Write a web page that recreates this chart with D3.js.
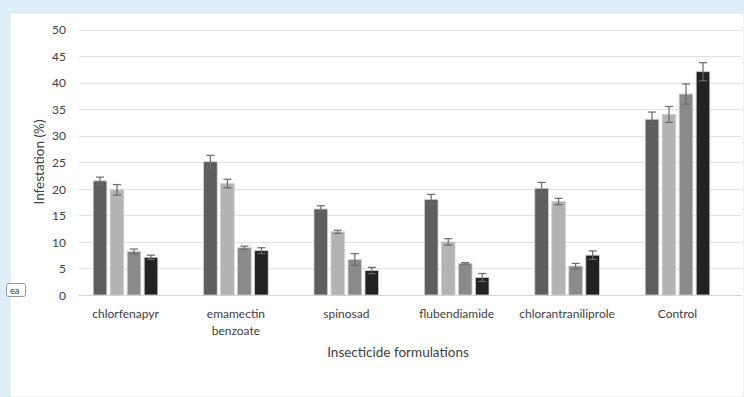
<!DOCTYPE html>
<html>
<head>
<meta charset="utf-8">
<script src="https://cdn.jsdelivr.net/npm/d3@7"></script>
<style>
  html, body { margin: 0; padding: 0; background: #dfeffa; }
  svg { display: block; }
</style>
</head>
<body>
<svg id="chart" width="744" height="397"></svg>
<script>
const categories = ["chlorfenapyr", "emamectin benzoate", "spinosad", "flubendiamide", "chlorantraniliprole", "Control"];
const categoryLines = [["chlorfenapyr"], ["emamectin", "benzoate"], ["spinosad"], ["flubendiamide"], ["chlorantraniliprole"], ["Control"]];
const seriesNames = ["S1", "S2", "S3", "S4"];
const values = [
  [21.5, 19.8, 8.2, 7.1],
  [25.1, 21.0, 8.9, 8.35],
  [16.2, 11.9, 6.7, 4.6],
  [18.0, 10.0, 5.95, 3.3],
  [20.1, 17.6, 5.45, 7.5],
  [33.1, 34.0, 37.85, 42.05]
];
const errors = [
  [0.7, 1.0, 0.45, 0.4],
  [1.2, 0.8, 0.3, 0.55],
  [0.6, 0.3, 1.1, 0.6],
  [0.95, 0.6, 0.15, 0.75],
  [1.1, 0.6, 0.5, 0.8],
  [1.35, 1.5, 1.9, 1.7]
];
const yTicks = [0, 5, 10, 15, 20, 25, 30, 35, 40, 45, 50];
const colors = ["#5e5e5e", "#b3b3b3", "#8a8a8a", "#222222"];

const svg = d3.select("#chart");
const font = "Lato, 'Open Sans', sans-serif";

// white panel
svg.append("rect").attr("x", 10).attr("y", 13).attr("width", 734).attr("height", 384)
  .attr("fill", "#ffffff").attr("stroke", "#e2e2e2").attr("stroke-width", 1);

const y = d3.scaleLinear().domain([0, 50]).range([295, 29.5]);
const x0 = d3.scaleBand().domain(categories).range([70.3, 732.7]).paddingInner(0).paddingOuter(0);
const barW = 13.6, barStep = 17;

// gridlines
svg.append("g").selectAll("line").data(yTicks).join("line")
  .attr("x1", 79).attr("x2", 742)
  .attr("y1", d => Math.round(y(d)) + 0.5).attr("y2", d => Math.round(y(d)) + 0.5)
  .attr("stroke", d => d === 0 ? "#d4d4d4" : "#e1e1e1").attr("stroke-width", 1.2);

// y axis labels
const yAxis = d3.axisLeft(y).tickValues(yTicks).tickSize(0).tickPadding(0);
const gy = svg.append("g").attr("transform", "translate(66,0)").call(yAxis);
gy.select(".domain").remove();
gy.selectAll("text").attr("font-family", font).attr("font-size", 12).attr("fill", "#404040").attr("dy", "0.35em");

// bars
const groups = svg.append("g").selectAll("g").data(categories).join("g")
  .attr("transform", d => `translate(${x0(d) + x0.bandwidth() / 2 - (barStep * 3 + barW) / 2},0)`);

groups.each(function(cat, ci) {
  const g = d3.select(this);
  values[ci].forEach((v, si) => {
    const bx = si * barStep;
    g.append("rect").attr("x", bx).attr("y", y(v)).attr("width", barW).attr("height", y(0) - y(v))
      .attr("fill", colors[si]).attr("stroke", "#d0d0d0").attr("stroke-width", 0.8);
    const e = errors[ci][si];
    const cx = bx + barW / 2;
    g.append("line").attr("x1", cx).attr("x2", cx).attr("y1", y(v + e)).attr("y2", y(v - e))
      .attr("stroke", "#6a6a6a").attr("stroke-width", 1.2);
    [v + e, v - e].forEach(t => {
      g.append("line").attr("x1", cx - 4).attr("x2", cx + 4).attr("y1", y(t)).attr("y2", y(t))
        .attr("stroke", "#6a6a6a").attr("stroke-width", 1.2);
    });
  });
});

// category labels
const xl = svg.append("g");
categories.forEach((c, i) => {
  const t = xl.append("text").attr("x", x0(c) + x0.bandwidth() / 2).attr("y", 318)
    .attr("text-anchor", "middle").attr("font-family", font).attr("font-size", 12).attr("fill", "#404040");
  categoryLines[i].forEach((ln, li) => {
    t.append("tspan").attr("x", x0(c) + x0.bandwidth() / 2).attr("dy", li === 0 ? 0 : 17).text(ln);
  });
});

// axis titles
svg.append("text").attr("x", 398).attr("y", 357).attr("text-anchor", "middle")
  .attr("font-family", font).attr("font-size", 13.5).attr("fill", "#404040").text("Insecticide formulations");
svg.append("text").attr("transform", "translate(44,162) rotate(-90)").attr("text-anchor", "middle")
  .attr("font-family", font).attr("font-size", 13.5).attr("fill", "#404040").text("Infestation (%)");

// small tooltip box
svg.append("rect").attr("x", 6.5).attr("y", 283.5).attr("width", 19).attr("height", 13).attr("rx", 2)
  .attr("fill", "#ffffff").attr("stroke", "#9a9a9a").attr("stroke-width", 1);
svg.append("text").attr("x", 10).attr("y", 293.5).attr("font-family", font).attr("font-size", 9)
  .attr("fill", "#333").text("ea");
</script>
</body>
</html>
